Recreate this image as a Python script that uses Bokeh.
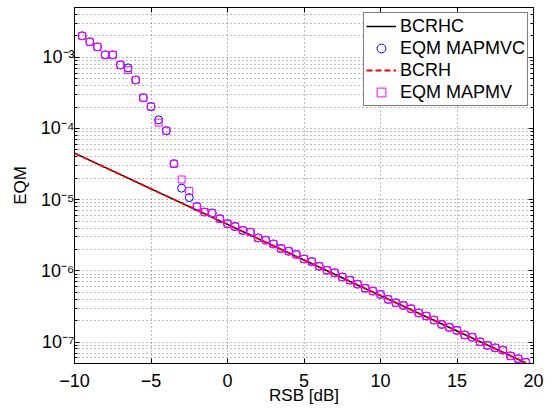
from bokeh.plotting import figure
from bokeh.models import (FixedTicker, LinearAxis, LogAxis, CustomJSTickFormatter,
                          Legend, LegendItem, Range1d)
from bokeh.embed import file_html
from bokeh.resources import INLINE

# ---- data ----
rsb_points = [-9.5, -9.0, -8.5, -8.0, -7.5, -7.0, -6.5, -6.0, -5.5, -5.0,
              -4.5, -4.0, -3.5, -3.0, -2.5, -2.0, -1.5, -1.0, -0.5, 0.0,
              0.5, 1.0, 1.5, 2.0, 2.5, 3.0, 3.5, 4.0, 4.5, 5.0,
              5.5, 6.0, 6.5, 7.0, 7.5, 8.0, 8.5, 9.0, 9.5, 10.0,
              10.5, 11.0, 11.5, 12.0, 12.5, 13.0, 13.5, 14.0, 14.5, 15.0,
              15.5, 16.0, 16.5, 17.0, 17.5, 18.0, 18.5, 19.0, 19.5]

eqm_mapmvc = [2.0e-3, 1.65e-3, 1.40e-3, 1.08e-3, 1.08e-3, 7.8e-4, 7.1e-4, 4.8e-4, 2.7e-4, 2.03e-4,
              1.32e-4, 9.3e-5, 3.2e-5, 1.45e-5, 1.07e-5, 8.0e-6, 6.7e-6, 6.5e-6, 5.4e-6, 4.6e-6,
              4.2e-6, 3.7e-6, 3.5e-6, 2.9e-6, 2.7e-6, 2.39e-6, 2.06e-6, 1.89e-6, 1.70e-6, 1.47e-6,
              1.35e-6, 1.16e-6, 1.02e-6, 9.4e-7, 8.2e-7, 7.4e-7, 6.5e-7, 5.7e-7, 5.2e-7, 4.67e-7,
              3.98e-7, 3.56e-7, 3.27e-7, 2.94e-7, 2.56e-7, 2.32e-7, 2.04e-7, 1.77e-7, 1.61e-7, 1.46e-7,
              1.26e-7, 1.17e-7, 1.01e-7, 9.0e-8, 8.3e-8, 7.7e-8, 6.4e-8, 5.85e-8, 5.2e-8]

eqm_mapmv = [2.0e-3, 1.65e-3, 1.40e-3, 1.08e-3, 1.08e-3, 7.8e-4, 6.6e-4, 4.8e-4, 2.7e-4, 2.03e-4,
             1.21e-4, 9.3e-5, 3.2e-5, 1.92e-5, 1.32e-5, 8.0e-6, 6.7e-6, 6.5e-6, 5.4e-6, 4.6e-6,
             4.2e-6, 3.7e-6, 3.5e-6, 2.9e-6, 2.7e-6, 2.39e-6, 2.06e-6, 1.89e-6, 1.70e-6, 1.47e-6,
             1.35e-6, 1.16e-6, 1.02e-6, 9.4e-7, 8.2e-7, 7.4e-7, 6.5e-7, 5.7e-7, 5.2e-7, 4.67e-7,
             3.98e-7, 3.56e-7, 3.27e-7, 2.94e-7, 2.56e-7, 2.32e-7, 2.04e-7, 1.77e-7, 1.61e-7, 1.46e-7,
             1.26e-7, 1.17e-7, 1.01e-7, 9.0e-8, 8.3e-8, 7.7e-8, 6.4e-8, 5.85e-8, 5.2e-8]

rsb_line = [-10.0, -5.0, 0.0, 5.0, 10.0, 15.0, 19.5]
bcrhc = [4.5e-5, 1.42e-5, 4.5e-6, 1.42e-6, 4.5e-7, 1.43e-7, 5.1e-8]
bcrh = [4.5e-5, 1.42e-5, 4.5e-6, 1.42e-6, 4.5e-7, 1.43e-7, 5.1e-8]

x_ticks = [-10, -5, 0, 5, 10, 15, 20]
y_ticks = [1e-7, 1e-6, 1e-5, 1e-4, 1e-3]
y_minor = [m * d for d in [1e-8, 1e-7, 1e-6, 1e-5, 1e-4, 1e-3] for m in range(2, 10)]

FONT = "Liberation Sans"

p = figure(width=553, height=410, y_axis_type="log",
           x_range=Range1d(-10, 20), y_range=Range1d(5e-8, 5e-3),
           output_backend="svg", toolbar_location=None,
           min_border_left=74, min_border_right=20, min_border_top=7, min_border_bottom=47)

p.outline_line_color = "black"
p.outline_line_width = 1

x_fmt = CustomJSTickFormatter(code="return tick < 0 ? '\u2212' + Math.abs(tick) : String(tick);")
y_fmt = CustomJSTickFormatter(code="""
const e = Math.round(Math.log10(tick));
const sup = {'-':'\u207b','0':'\u2070','1':'\u00b9','2':'\u00b2','3':'\u00b3','4':'\u2074',
             '5':'\u2075','6':'\u2076','7':'\u2077','8':'\u2078','9':'\u2079'};
return '10' + String(e).split('').map(c => sup[c]).join('');
""")
blank = CustomJSTickFormatter(code="return '';")

def style_axis(ax):
    ax.axis_line_color = "black"
    ax.major_tick_in = 5
    ax.major_tick_out = 0
    ax.minor_tick_in = 3
    ax.minor_tick_out = 0
    ax.major_tick_line_color = "black"
    ax.minor_tick_line_color = "black"
    ax.major_label_text_font = FONT
    ax.major_label_text_font_size = "18px"
    ax.major_label_text_color = "black"
    ax.axis_label_text_font = FONT
    ax.axis_label_text_font_size = "17px"
    ax.axis_label_text_font_style = "normal"
    ax.axis_label_text_color = "black"

xax = p.xaxis[0]
xax.ticker = FixedTicker(ticks=x_ticks)
xax.formatter = x_fmt
style_axis(xax)
xax.minor_tick_line_color = None
xax.axis_label = "RSB [dB]"
xax.major_label_standoff = 10
xax.axis_label_standoff = -4

yax = p.yaxis[0]
yax.ticker = FixedTicker(ticks=y_ticks, minor_ticks=y_minor)
yax.formatter = y_fmt
style_axis(yax)
yax.axis_label = "EQM"
yax.major_label_standoff = 0
yax.axis_label_standoff = 8

top = LinearAxis(ticker=FixedTicker(ticks=x_ticks), formatter=blank)
style_axis(top)
top.minor_tick_line_color = None
top.major_label_text_font_size = "0px"
top.major_label_standoff = 0
p.add_layout(top, "above")

right = LogAxis(ticker=FixedTicker(ticks=y_ticks, minor_ticks=y_minor), formatter=blank)
style_axis(right)
right.major_label_text_font_size = "0px"
right.major_label_standoff = 0
p.add_layout(right, "right")

for g in (p.xgrid[0], p.ygrid[0]):
    g.grid_line_color = "#7a7a7a"
    g.grid_line_dash = "1 3"
    g.grid_line_width = 1
p.xgrid[0].ticker = FixedTicker(ticks=x_ticks)
p.ygrid[0].ticker = FixedTicker(ticks=y_ticks, minor_ticks=y_minor)
p.ygrid[0].minor_grid_line_color = "#7a7a7a"
p.ygrid[0].minor_grid_line_dash = "1 3"
p.ygrid[0].minor_grid_line_width = 1

r1 = p.line(rsb_line, bcrhc, line_color="black", line_width=1.5)
r2 = p.scatter(rsb_points, eqm_mapmvc, marker="circle", size=8, fill_color=None,
               line_color="#0000ff", line_width=1)
r3 = p.line(rsb_line, bcrh, line_color="#ff0000", line_width=1.8, line_dash="6 3")
r4 = p.scatter(rsb_points, eqm_mapmv, marker="square", size=7, fill_color=None,
               line_color="#ff00ff", line_width=1)

legend = Legend(items=[LegendItem(label="BCRHC", renderers=[r1]),
                       LegendItem(label="EQM MAPMVC", renderers=[r2]),
                       LegendItem(label="BCRH", renderers=[r3]),
                       LegendItem(label="EQM MAPMV", renderers=[r4])],
                location="top_right")
legend.label_text_font = FONT
legend.label_text_font_size = "18px"
legend.label_text_color = "black"
legend.border_line_color = "black"
legend.border_line_width = 1
legend.background_fill_color = "white"
legend.background_fill_alpha = 1
legend.glyph_width = 30
legend.glyph_height = 22
legend.label_height = 22
legend.label_standoff = 4
legend.spacing = 0
legend.padding = 2
legend.margin = 5
p.add_layout(legend)

open("out.html", "w").write(file_html(p, INLINE))
